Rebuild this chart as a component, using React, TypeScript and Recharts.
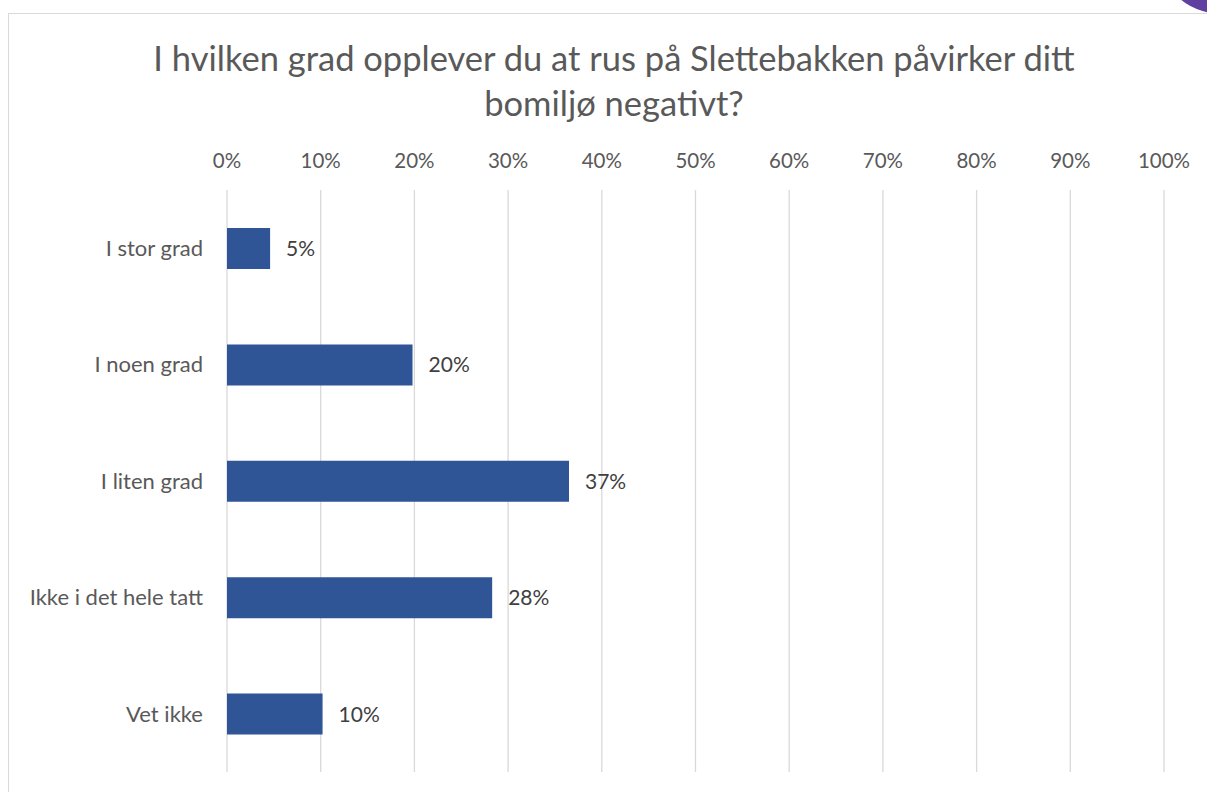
import { Bar, BarChart, CartesianGrid, LabelList, XAxis, YAxis } from "recharts";

const CATEGORIES = ["I stor grad", "I noen grad", "I liten grad", "Ikke i det hele tatt", "Vet ikke"];
const SHARES = [0.046, 0.198, 0.365, 0.283, 0.102];
const X_TICKS = [0, 0.1, 0.2, 0.3, 0.4, 0.5, 0.6, 0.7, 0.8, 0.9, 1];

const TITLE_1 = "I hvilken grad opplever du at rus på Slettebakken påvirker ditt";
const TITLE_2 = "bomiljø negativt?";

const FONT = "Lato, 'Open Sans', sans-serif";
const pct = (v: number) => `${Math.round(v * 100)}%`;

const data = CATEGORIES.map((name, i) => ({ name, value: SHARES[i] }));

export default function App() {
  return (
    <div
      style={{
        position: "fixed",
        left: 0,
        top: 0,
        width: 1207,
        height: 792,
        overflow: "hidden",
        fontFamily: FONT,
        background: "#fff",
      }}
    >
      {/* chart frame, runs off the right and bottom edge */}
      <div
        style={{
          position: "absolute",
          left: 8,
          top: 13,
          width: 1260,
          height: 900,
          border: "1px solid #d9d9d9",
        }}
      />
      {/* purple blob peeking in at the top right */}
      <div
        style={{
          position: "absolute",
          left: 1222 - 66,
          top: -52 - 66,
          width: 132,
          height: 132,
          borderRadius: "50%",
          background: "#5f3f9f",
        }}
      />
      <div
        style={{
          position: "absolute",
          left: 0,
          top: 35,
          width: 1228,
          textAlign: "center",
          fontSize: 34.5,
          lineHeight: "45px",
          color: "#595959",
        }}
      >
        <div>{TITLE_1}</div>
        <div>{TITLE_2}</div>
      </div>
      <div style={{ position: "absolute", left: 0, top: 0 }}>
        <BarChart
          width={1207}
          height={792}
          data={data}
          layout="vertical"
          margin={{ top: 150, right: 43, bottom: 20, left: 27 }}
        >
          <CartesianGrid horizontal={false} stroke="#d9d9d9" strokeWidth={1.3} />
          <XAxis
            type="number"
            orientation="top"
            domain={[0, 1]}
            ticks={X_TICKS}
            tickFormatter={pct}
            height={40}
            axisLine={false}
            tickLine={false}
            tickMargin={16}
            tick={{ fill: "#595959", fontSize: 20.5, fontFamily: FONT }}
          />
          <YAxis
            type="category"
            dataKey="name"
            width={200}
            axisLine={false}
            tickLine={false}
            tickSize={0}
            tickMargin={24}
            tick={{ fill: "#595959", fontSize: 22, fontFamily: FONT }}
          />
          <Bar dataKey="value" fill="#2f5597" barSize={41} isAnimationActive={false}>
            <LabelList
              dataKey="value"
              position="right"
              offset={16}
              formatter={(v: number) => pct(v)}
              fill="#404040"
              fontSize={21}
              fontFamily={FONT}
            />
          </Bar>
        </BarChart>
      </div>
    </div>
  );
}
